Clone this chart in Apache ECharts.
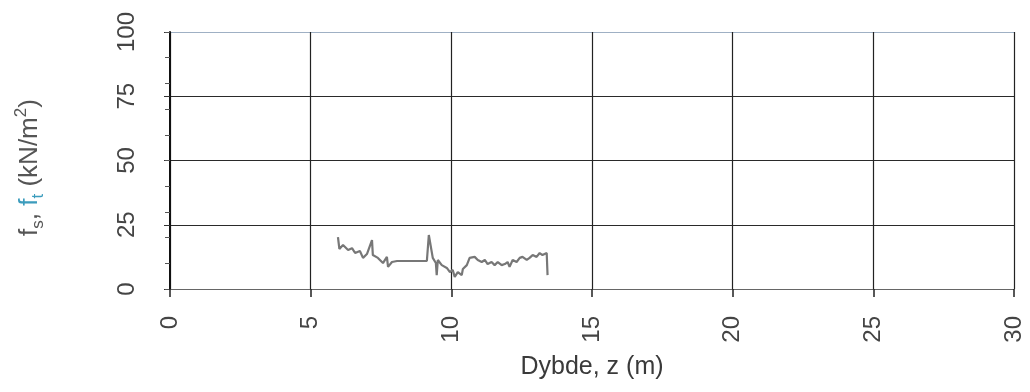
<!DOCTYPE html>
<html>
<head>
<meta charset="utf-8">
<script src="https://cdn.jsdelivr.net/npm/echarts@6/dist/echarts.min.js"></script>
<style>
  html, body { margin: 0; padding: 0; background: #fff; }
  #chart { width: 1030px; height: 392px; }
</style>
</head>
<body>
<div id="chart"></div>
<script>
// Sleeve friction profile against depth
const depth = [5.97, 6.02, 6.15, 6.33, 6.47, 6.58, 6.75, 6.86, 7.00, 7.18, 7.21, 7.39, 7.57, 7.71, 7.75, 7.89, 8.07,
  9.13, 9.20, 9.34, 9.45, 9.48, 9.52, 9.66, 9.84, 9.95, 10.05, 10.12, 10.23, 10.37, 10.41, 10.55, 10.65, 10.83,
  10.94, 11.08, 11.19, 11.29, 11.43, 11.54, 11.65, 11.79, 11.90, 12.00, 12.07, 12.18, 12.32, 12.43, 12.53, 12.68,
  12.78, 12.89, 13.03, 13.14, 13.24, 13.31, 13.39, 13.42];
const fs = [20.2, 15.6, 17.1, 15.2, 15.9, 14.0, 14.8, 12.1, 13.6, 19.0, 13.2, 12.1, 10.1, 12.5, 8.6, 10.5, 10.9,
  10.9, 21.0, 12.1, 10.1, 5.4, 11.3, 9.3, 8.2, 6.6, 7.4, 4.7, 6.6, 5.4, 7.8, 9.3, 12.1, 12.5,
  11.3, 10.5, 11.3, 9.7, 10.5, 9.3, 10.5, 9.3, 9.7, 10.5, 8.6, 11.3, 10.5, 12.1, 12.5, 11.3,
  12.1, 13.2, 12.5, 14.0, 13.2, 12.5, 14.0, 5.4];

const xTicks = [0, 5, 10, 15, 20, 25, 30];
const yTicks = [0, 25, 50, 75, 100];

const FONT = '"Liberation Sans", Arial, sans-serif';
const chart = echarts.init(document.getElementById('chart'));

chart.setOption({
  animation: false,
  backgroundColor: '#ffffff',
  grid: { left: 170, right: 16, top: 32, bottom: 103 },
  xAxis: {
    type: 'value',
    min: xTicks[0], max: xTicks[xTicks.length - 1], interval: 5,
    name: 'Dybde, z (m)',
    nameLocation: 'middle',
    nameGap: 66,
    nameTextStyle: { fontFamily: FONT, fontSize: 25, color: '#3a3a3a' },
    axisLine: { lineStyle: { color: '#666', width: 1 } },
    axisTick: { length: 8, lineStyle: { color: '#222', width: 1.5 } },
    axisLabel: { rotate: 90, margin: 27, fontFamily: FONT, fontSize: 24, color: '#444' },
    splitLine: { show: true, lineStyle: { color: '#222', width: 1.2 } }
  },
  yAxis: [{
    type: 'value',
    min: yTicks[0], max: yTicks[yTicks.length - 1], interval: 25,
    name: '{g|f}{gs|s}{g|, }{t|f}{ts|t}{g| (kN/m}{sp|2}{g|)}',
    nameLocation: 'middle',
    nameRotate: 90,
    nameGap: 123,
    nameTextStyle: {
      padding: [0, 14, 0, 0],
      rich: {
        g: { fontFamily: FONT, fontSize: 26, color: '#555', lineHeight: 34 },
        gs: { fontFamily: FONT, fontSize: 17, color: '#555', verticalAlign: 'bottom', lineHeight: 34, padding: [12, 0, 0, 0] },
        t: { fontFamily: FONT, fontSize: 26, color: '#3c9cbd', lineHeight: 34 },
        ts: { fontFamily: FONT, fontSize: 17, color: '#3c9cbd', verticalAlign: 'bottom', lineHeight: 34, padding: [12, 0, 0, 0] },
        sp: { fontFamily: FONT, fontSize: 17, color: '#555', verticalAlign: 'top', lineHeight: 34, padding: [0, 0, 12, 0] }
      }
    },
    axisLine: { lineStyle: { color: '#111', width: 2 } },
    axisTick: { length: 6, lineStyle: { color: '#333' } },
    axisLabel: { rotate: 90, margin: 31, fontFamily: FONT, fontSize: 24, color: '#444' },
    splitLine: { show: true, lineStyle: { color: ['#555', '#2a2a2a', '#2a2a2a', '#2a2a2a', '#9fb0c4'], width: 1.2 } }
  }, {
    // minor ticks every 10 units
    type: 'value', position: 'left',
    min: 0, max: 100, interval: 10,
    axisLine: { show: false },
    axisTick: { show: true, length: 5, lineStyle: { color: '#555' } },
    axisLabel: { show: false },
    splitLine: { show: false }
  }],
  series: [{
    type: 'line',
    data: depth.map((d, i) => [d, fs[i]]),
    showSymbol: false,
    lineStyle: { color: '#777', width: 2.2 },
    z: 5
  }]
});
</script>
</body>
</html>
